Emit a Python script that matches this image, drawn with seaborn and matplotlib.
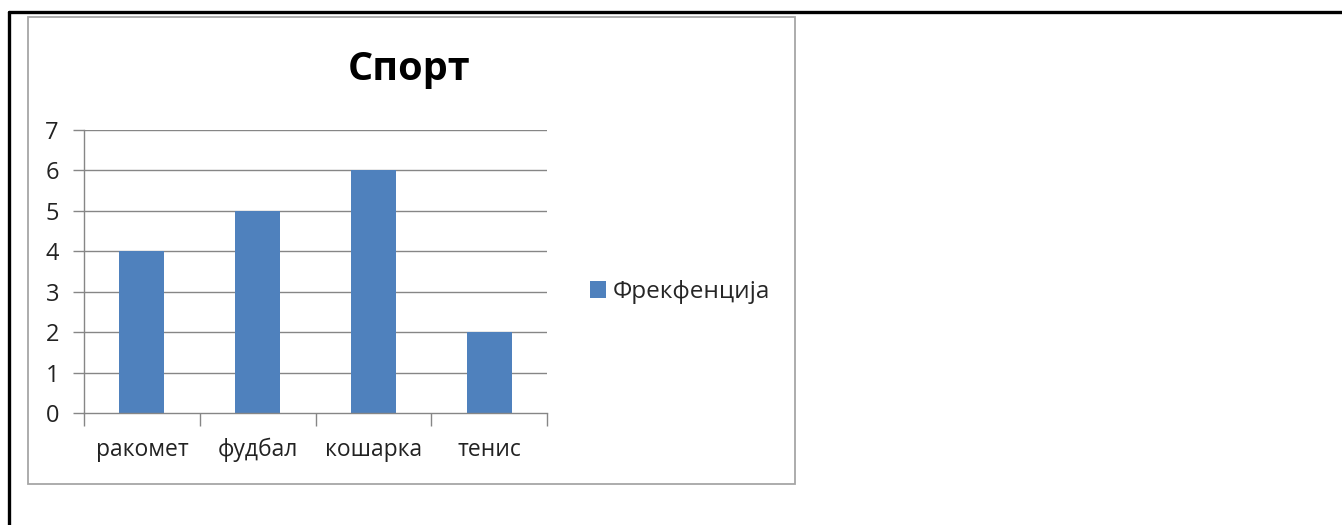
import matplotlib
matplotlib.use("Agg")
import matplotlib.pyplot as plt
import seaborn as sns
import pandas as pd
from matplotlib.patches import Rectangle, Patch
from matplotlib.lines import Line2D

categories = ["ракомет", "фудбал", "кошарка", "тенис"]
values = [4, 5, 6, 2]
series_name = "Фрекфенција"
title = "Спорт"
yticks = [0, 1, 2, 3, 4, 5, 6, 7]

sns.set_theme(style="white")
plt.rcParams['font.family'] = ['Open Sans', 'DejaVu Sans']

W, H = 1342, 525
fig = plt.figure(figsize=(W / 100, H / 100), dpi=100)
fig.patch.set_facecolor("white")

def fx(x): return x / W
def fy(y): return 1 - y / H

ax = fig.add_axes([fx(84), fy(413), fx(547) - fx(84), fy(130) - fy(413)])
df = pd.DataFrame({"cat": categories, "val": values})
sns.barplot(data=df, x="cat", y="val", color="#4F81BD", width=0.39, saturation=1,
            linewidth=0, edgecolor="none", ax=ax)

FS = 16.5
ax.set_ylim(0, 7)
ax.set_xlim(-0.5, len(categories) - 0.5)
ax.set_yticks(yticks)
ax.set_yticklabels([str(t) for t in yticks], fontsize=17, color="#222222")
ax.set_xlabel("")
ax.set_ylabel("")
ax.set_xticks(range(len(categories)))
ax.set_xticklabels(categories, fontsize=FS, color="#222222")
ax.set_xticks([i - 0.5 for i in range(len(categories) + 1)], minor=True)
ax.tick_params(axis="x", which="major", length=0, pad=18, bottom=True)
ax.tick_params(axis="x", which="minor", length=9, width=1, color="#868686", direction="out", bottom=True)
ax.tick_params(axis="y", which="major", length=8, width=1, color="#868686", direction="out",
               pad=10, left=True)
for y in yticks[1:]:
    ax.axhline(y, color="#868686", lw=1, zorder=0)
ax.set_axisbelow(True)
for s in ["top", "right"]:
    ax.spines[s].set_visible(False)
for s in ["left", "bottom"]:
    ax.spines[s].set_color("#868686")
    ax.spines[s].set_linewidth(1)
ax.set_facecolor("none")

fig.text(fx(409), fy(80), title, fontsize=28.5, fontweight="bold", ha="center", va="baseline", color="black")

handle = Patch(facecolor="#4F81BD", edgecolor="none")
fig.legend([handle], [series_name], loc="center left", bbox_to_anchor=(fx(590), fy(292)),
           frameon=False, fontsize=17.5, handlelength=0.65, handleheight=0.65, handletextpad=0.3,
           borderaxespad=0, borderpad=0)

fig.add_artist(Rectangle((fx(28), fy(484)), fx(795) - fx(28), fy(17) - fy(484),
                         transform=fig.transFigure, fill=False, edgecolor="#a6a6a6", lw=1.3))
fig.add_artist(Line2D([fx(9), 1], [fy(12), fy(12)], transform=fig.transFigure, color="black", lw=2.4))
fig.add_artist(Line2D([fx(9), fx(9)], [fy(12), 0], transform=fig.transFigure, color="black", lw=2.4))

fig.savefig("out.png", dpi=100, facecolor="white")
